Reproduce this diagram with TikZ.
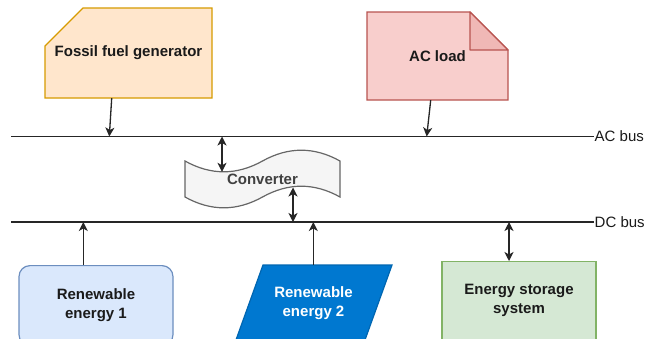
\documentclass[tikz,border=0pt]{standalone}
\usepackage{fontspec}
\setmainfont{Liberation Sans}
\usetikzlibrary{arrows.meta}

\definecolor{genFill}{HTML}{FFE6CC}
\definecolor{genLine}{HTML}{D79B00}
\definecolor{loadFill}{HTML}{F8CECC}
\definecolor{loadLine}{HTML}{B85450}
\definecolor{loadFold}{HTML}{F0B8B6}
\definecolor{convFill}{HTML}{F5F5F5}
\definecolor{convLine}{HTML}{666666}
\definecolor{convText}{HTML}{404040}
\definecolor{reOneFill}{HTML}{DAE8FC}
\definecolor{reOneLine}{HTML}{6C8EBF}
\definecolor{reTwoFill}{HTML}{0078D0}
\definecolor{essFill}{HTML}{D5E8D4}
\definecolor{essLine}{HTML}{82B366}
\definecolor{textDark}{HTML}{1A1A1A}

\tikzset{
  label text/.style={font=\bfseries\fontsize{15}{19}\selectfont, align=center, text=textDark},
  holder/.style={label text, draw=none, inner sep=0pt},
  outline/.style={line width=1.2pt},
  busline/.style={line width=1.3pt, draw=black!85},
  buslabel/.style={anchor=west, inner sep=0.5pt, font=\fontsize{15}{18}\selectfont, text=textDark},
  feed/.style={line width=1.3pt, draw=black!85, -{Stealth[length=9pt,width=9pt,inset=2.5pt]}},
  twoway/.style={line width=1.3pt, draw=black!85, {Stealth[length=9pt,width=9pt,inset=2.5pt]}-{Stealth[length=9pt,width=9pt,inset=2.5pt]}}
}

\begin{document}
\begin{tikzpicture}[x=1pt,y=-1pt]
\clip (0,0) rectangle (647,338);
\fill[white] (0,0) rectangle (647,338);

% ---- fossil fuel generator (one chamfered corner)
\filldraw[outline, fill=genFill, draw=genLine]
  (45,46) -- (83,8) -- (212,8) -- (212,98) -- (45,98) -- cycle;
\node[holder, minimum width=167pt, minimum height=90pt] (fossil) at (128.5,53) {Fossil fuel generator};

% ---- AC load (note with folded corner)
\filldraw[outline, fill=loadFill, draw=loadLine]
  (367,12) -- (470,12) -- (508,50) -- (508,100) -- (367,100) -- cycle;
\filldraw[outline, fill=loadFold, draw=loadLine, line join=round]
  (470,12) -- (470,50) -- (508,50) -- cycle;
\node[holder, minimum width=141pt, minimum height=88pt] (load) at (437.5,56) {AC load};

% ---- converter (tape)
\filldraw[outline, fill=convFill, draw=convLine]
  (185,161) .. controls (210.83,175.4) and (236.67,175.4) .. (262.5,161)
            .. controls (288.33,146.6) and (314.17,146.6) .. (340,161)
  -- (340,197)
            .. controls (314.17,182.6) and (288.33,182.6) .. (262.5,197)
            .. controls (236.67,211.4) and (210.83,211.4) .. (185,197)
  -- cycle;
\node[holder, text=convText, minimum width=155pt, minimum height=40pt] (conv) at (262.5,179) {Converter};
\coordinate (convTop) at (222,171.8);
\coordinate (convBot) at (293,187.5);

% ---- renewable energy 1
\node[holder, draw=reOneLine, fill=reOneFill, outline, rounded corners=11pt,
      minimum width=154pt, minimum height=80pt, anchor=north] (re1) at (96,265)
      {Renewable\\energy 1};

% ---- renewable energy 2 (parallelogram)
\filldraw[outline, fill=reTwoFill, draw=reTwoFill!85!black]
  (263,265) -- (392,265) -- (364.6,341) -- (235.6,341) -- cycle;
\node[holder, text=white, minimum width=128pt, minimum height=76pt, anchor=north] (re2) at (313.5,265)
      {Renewable\\energy 2};

% ---- energy storage system
\node[holder, draw=essLine, fill=essFill, outline,
      minimum width=154pt, minimum height=78pt, anchor=north] (ess) at (519,261)
      {Energy storage\\system};

% ---- AC and DC buses
\coordinate (acL) at (11,136.5);
\coordinate (acR) at (594,136.5);
\coordinate (dcL) at (11,222);
\coordinate (dcR) at (594,222);
\draw[busline] (acL) -- (acR);
\draw[busline] (dcL) -- (dcR);
\node[buslabel] (aclabel) at (acR) {AC bus};
\node[buslabel] (dclabel) at (dcR) {DC bus};

% taps on the buses
\coordinate (acFossil) at (109.3,136.5);
\coordinate (acLoad)   at (426.7,136.5);
\coordinate (acConv)   at (222,136.5);
\coordinate (dcConv)   at (293,222);
\coordinate (dcRe1)    at (83.3,222);
\coordinate (dcRe2)    at (313.3,222);
\coordinate (dcEss)    at (509,222);

% ---- connectors
\draw[feed] ([xshift=-16.8pt]fossil.south) -- (acFossil);
\draw[feed] ([xshift=-6.8pt]load.south) -- (acLoad);
\draw[twoway] (acConv) -- (convTop);
\draw[twoway] (convBot) -- (dcConv);
\draw[feed] (re1.north -| dcRe1) -- (dcRe1);
\draw[feed] (re2.north -| dcRe2) -- (dcRe2);
\draw[twoway] (ess.north -| dcEss) -- (dcEss);
\end{tikzpicture}
\end{document}
